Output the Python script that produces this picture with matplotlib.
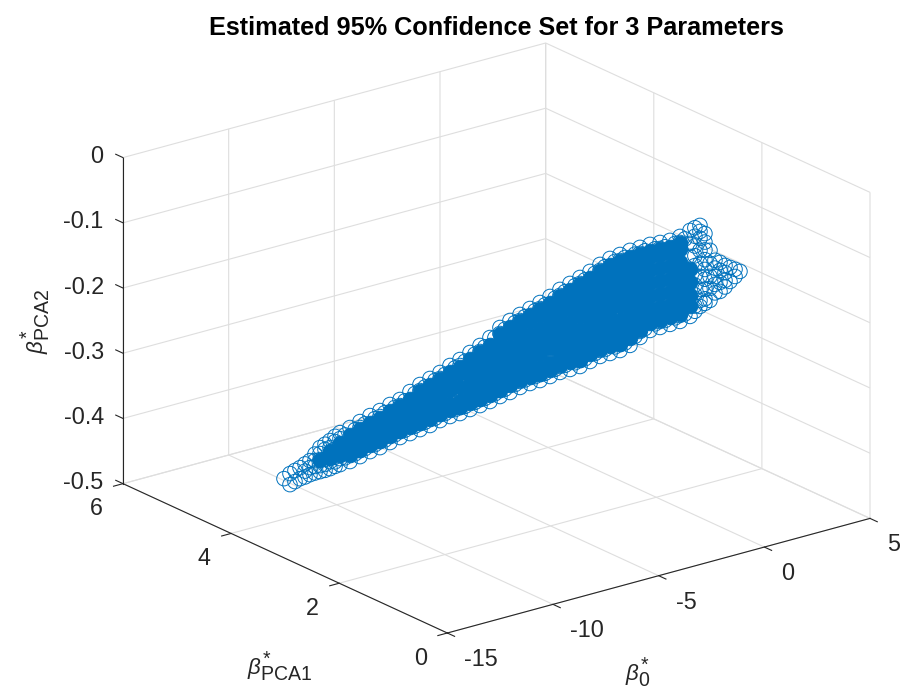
import numpy as np
import matplotlib
matplotlib.use("Agg")
import matplotlib.pyplot as plt
import matplotlib._mathtext as _mt
from mpl_toolkits.mplot3d import proj3d

plt.rcParams['font.family'] = ['Liberation Sans', 'DejaVu Sans']
plt.rcParams['mathtext.fontset'] = 'custom'
plt.rcParams['mathtext.rm'] = 'Liberation Sans'
plt.rcParams['mathtext.it'] = 'Liberation Sans:italic'
plt.rcParams['mathtext.bf'] = 'Liberation Sans:bold'
plt.rcParams['axes.unicode_minus'] = False
_mt.SHRINK_FACTOR = 0.88

TITLE = "Estimated 95% Confidence Set for 3 Parameters"
X_TICKS = [-15, -10, -5, 0, 5]
Y_TICKS = [0, 2, 4, 6]
Z_TICKS = [-0.5, -0.4, -0.3, -0.2, -0.1, 0]
Z_LABELS = ['-0.5', '-0.4', '-0.3', '-0.2', '-0.1', '0']

beta0_slices = [-10.324, -10.168, -9.909, -9.650, -9.391, -9.132, -8.873, -8.614, -8.355, -8.096, -7.837, -7.578,
                -7.319, -7.060, -6.800, -6.541, -6.282, -6.023, -5.764, -5.505, -5.246, -4.987, -4.728, -4.469,
                -4.210, -3.951, -3.692, -3.433, -3.174, -2.915, -2.656, -2.396, -2.137, -1.878, -1.619, -1.360,
                -1.101, -0.842, -0.583, -0.324, -0.065, 0.194, 0.453, 0.712, 0.971, 1.230, 1.489]
pca1_slices = [4.850, 4.800, 4.716, 4.633, 4.549, 4.465, 4.381, 4.298, 4.214, 4.130, 4.047, 3.963,
               3.879, 3.795, 3.712, 3.628, 3.544, 3.461, 3.377, 3.293, 3.209, 3.126, 3.042, 2.958,
               2.875, 2.791, 2.707, 2.623, 2.540, 2.456, 2.372, 2.288, 2.205, 2.121, 2.037, 1.954,
               1.870, 1.786, 1.702, 1.619, 1.535, 1.451, 1.368, 1.284, 1.200, 1.116, 1.033]
pca2_outline = [
    [-.4895], [-.4812, -.4981], [-.4712, -.4881], [-.4595, -.4702, -.4810],
    [-.4386, -.4478, -.4570, -.4662, -.4754], [-.4269, -.4377, -.4484, -.4591, -.4699],
    [-.4138, -.4230, -.4536, -.4628], [-.4051, -.4572], [-.3950, -.4042, -.4395, -.4487],
    [-.3849, -.4401], [-.3763, -.3855, -.4239, -.4331], [-.3661, -.4244],
    [-.3575, -.3668, -.4066, -.4158], [-.3444, -.4088], [-.3327, -.3419, -.3926, -.4018],
    [-.3225, -.3946], [-.3124, -.3216, -.3769, -.3861], [-.3008, -.3790],
    [-.2907, -.2999, -.3643, -.3735], [-.2790, -.3664], [-.2673, -.2765, -.3501, -.3594],
    [-.2542, -.3523], [-.2379, -.2471, -.3345, -.3437], [-.2262, -.3366],
    [-.2161, -.2253, -.3188, -.3280], [-.2060, -.3210], [-.1959, -.2051, -.3063, -.3155],
    [-.1857, -.3084], [-.1740, -.1832, -.2921, -.3013], [-.1639, -.2958],
    [-.1538, -.1630, -.2811, -.2903], [-.1436, -.2817], [-.1320, -.1412, -.2639, -.2731],
    [-.1219, -.2676], [-.1149, -.1241, -.2529, -.2621], [-.1077, -.2534],
    [-.1022, -.1114, -.2311, -.2403], [-.0967, -.2286], [-.0928, -.1020, -.2139, -.2231],
    [-.0887, -.2175], [-.0817, -.0909, -.2028, -.2120], [-.0716, -.0915, -.1114, -.2034],
    [-.0630, -.0722, -.0829, -.1013, -.1213, -.1412, -.1611, -.1780, -.1872],
    [-.1003, -.1203, -.1402, -.1586, -.1770], [-.1178, -.1301, -.1485, -.1623],
    [-.1246, -.1461], [-.1298],
]
pca2_dense = [
    [], [], [], [], [-.4570], [-.4430, -.4540],
    [-.4290, -.4383, -.4480], [-.4250, -.4373], [-.4149, -.4287], [-.4048, -.4202], [-.3963, -.4131], [-.3861, -.4045],
    [-.3775, -.3959], [-.3643, -.3766, -.3889], [-.3527, -.3680, -.3818], [-.3425, -.3578, -.3747],
    [-.3324, -.3492, -.3661], [-.3207, -.3391, -.3591], [-.3106, -.3321, -.3536],
    [-.2989, -.3173, -.3357, -.3464], [-.2873, -.3072, -.3271, -.3394], [-.2741, -.2925, -.3124, -.3324],
    [-.2579, -.2763, -.2947, -.3131, -.3238], [-.2461, -.2661, -.2860, -.3059, -.3167],
    [-.2360, -.2560, -.2759, -.2958, -.3081], [-.2259, -.2459, -.2658, -.2857, -.3011],
    [-.2158, -.2358, -.2557, -.2756, -.2956], [-.2056, -.2256, -.2455, -.2654, -.2884],
    [-.1940, -.2139, -.2339, -.2538, -.2737], [-.1839, -.2038, -.2238, -.2437, -.2636, -.2759],
    [-.1738, -.1937, -.2136, -.2336, -.2535, -.2704], [-.1636, -.1835, -.2034, -.2234, -.2433, -.2617],
    [-.1519, -.1719, -.1918, -.2117, -.2317, -.2516], [-.1418, -.1618, -.1817, -.2016, -.2216, -.2415, -.2523],
    [-.1348, -.1547, -.1747, -.1946, -.2146, -.2345], [-.1277, -.1476, -.1675, -.1875, -.2074, -.2274, -.2381],
    [-.1222, -.1421, -.1620, -.1820, -.2019, -.2203], [-.1167, -.1366, -.1565, -.1765, -.1964, -.2102],
    [-.1127, -.1326, -.1526, -.1725, -.1924, -.2047], [-.1086, -.1286, -.1485, -.1684, -.1884, -.2022],
    [-.1016, -.1215, -.1415, -.1614, -.1813, -.1951], [-.1314, -.1513, -.1712, -.1881],
    [], [], [], [], [],
]
pca2_dense_edge = [
    [-.4158, -.4465], [-.4057, -.4380], [-.3956, -.4294], [-.3870, -.4224], [-.3768, -.4137], [-.3682, -.4051],
    [-.3551, -.3981], [-.3434, -.3911], [-.3332, -.3839], [-.3231, -.3754], [-.3115, -.3683], [-.3014, -.3628],
    [-.2897, -.3557], [-.2780, -.3487], [-.2649, -.3416], [-.2486, -.3330], [-.2369, -.3259], [-.2268, -.3173],
    [-.2167, -.3103], [-.2066, -.3048], [-.1964, -.2977], [-.1847, -.2906], [-.1746, -.2851], [-.1645, -.2796],
    [-.1543, -.2710], [-.1427, -.2624], [-.1326, -.2569], [-.1256, -.2514], [-.1184, -.2427], [-.1129, -.2296],
    [-.1074, -.2179], [-.1035, -.2124], [-.0994, -.2068], [-.0924, -.2013],
]
beta0_half = [-10.04, -9.78, -9.52, -9.26, -9.00, -8.74, -8.48, -8.23, -7.97, -7.71, -7.45, -7.19, -6.93, -6.67,
              -6.41, -6.15, -5.89, -5.63, -5.38, -5.12, -4.86, -4.60, -4.34, -4.08, -3.82, -3.56, -3.30, -3.04,
              -2.79, -2.53, -2.27, -2.01, -1.75, -1.49, -1.23, -0.97, -0.71, -0.45, -0.19, 0.06, 0.32, 0.58,
              0.84, 1.10, 1.36]
pca1_half = [4.758, 4.674, 4.591, 4.507, 4.423, 4.340, 4.256, 4.172, 4.088, 4.005, 3.921, 3.837, 3.754, 3.670,
             3.586, 3.503, 3.419, 3.335, 3.251, 3.168, 3.084, 3.000, 2.916, 2.833, 2.749, 2.665, 2.582, 2.498,
             2.414, 2.330, 2.246, 2.163, 2.079, 1.995, 1.912, 1.828, 1.744, 1.660, 1.577, 1.493, 1.410, 1.326,
             1.242, 1.158, 1.074]
pca2_half = [
    [-.476, -.493], [-.465, -.476, -.485], [-.449, -.459, -.468, -.478], [-.433, -.441, -.456, -.464, -.473],
    [-.420, -.428, -.440, -.452, -.459, -.466], [-.417, -.452], [-.408, -.445],
    [-.398, -.436], [-.389, -.429], [-.379, -.421],
    [-.370, -.412], [-.359, -.404], [-.347, -.397],
    [-.336, -.390], [-.325, -.383], [-.315, -.375],
    [-.304, -.368], [-.293, -.362], [-.281, -.355],
    [-.269, -.348], [-.254, -.340], [-.240, -.332],
    [-.229, -.324], [-.219, -.316], [-.209, -.310],
    [-.199, -.304], [-.188, -.297], [-.177, -.290],
    [-.167, -.285], [-.157, -.278], [-.146, -.269],
    [-.135, -.262], [-.126, -.257], [-.119, -.250],
    [-.113, -.239], [-.107, -.226], [-.103, -.218],
    [-.099, -.212], [-.093, -.207], [-.085, -.200],
    [-.067, -.080, -.095, -.110, -.125, -.140, -.155, -.170, -.187, -.195],
    [-.075, -.088, -.100, -.115, -.130, -.145, -.160, -.175, -.182],
    [-.115, -.127, -.140, -.152, -.165], [-.122, -.133, -.145, -.155], [-.127, -.138],
]

def expand(xs, ys, zs):
    x = [b for b, row in zip(xs, zs) for _ in row]
    y = [p for p, row in zip(ys, zs) for _ in row]
    z = [v for row in zs for v in row]
    return x, y, z

W, H = 903, 690
BLUE = '#0072BD'
DARK = '#262626'
GRID = '#DEDEDE'

fig = plt.figure(figsize=(W / 100, H / 100), dpi=100)
ax = fig.add_subplot(projection='3d', proj_type='ortho')
ax.view_init(elev=30, azim=-127.5)
ax.set_box_aspect((1, 1, 1))
ax.set_xlim(X_TICKS[0], X_TICKS[-1])
ax.set_ylim(Y_TICKS[0], Y_TICKS[-1])
ax.set_zlim(Z_TICKS[0], Z_TICKS[-1])
ax.xaxis.set_rotate_label(False)
ax.yaxis.set_rotate_label(False)
ax.zaxis.set_rotate_label(False)

# the source stretches its box to fill the canvas instead of keeping it cubic
ax.apply_aspect = lambda position=None: None
M = ax.get_proj()
def p2(x, y, z):
    a, b, _ = proj3d.proj_transform(x, y, z, M)
    return float(a), float(b)
xA, _ = p2(-15, 6, -.5)
xC, _ = p2(5, 0, -.5)
_, yB = p2(-15, 0, -.5)
_, yD = p2(5, 6, 0)
vx0, vx1 = ax.viewLim.intervalx
vy0, vy1 = ax.viewLim.intervaly
pw = (870 - 123) / (xC - xA)
ph = ((H - 43) - (H - 633)) / (yD - yB)
left = 123 - (xA - vx0) * pw
bottom = (H - 633) - (yB - vy0) * ph
ax.set_position([left / W, bottom / H, (vx1 - vx0) * pw / W, (vy1 - vy0) * ph / H])

for axis in (ax.xaxis, ax.yaxis, ax.zaxis):
    axis.set_pane_color((1, 1, 1, 0))
    axis.pane.set_edgecolor(GRID)
    axis.pane.set_linewidth(0.8)
    axis._axinfo['grid'].update(color=GRID, linewidth=0.8)
    axis.line.set_color(DARK)
    axis.line.set_linewidth(0.8)
ax.xaxis._axinfo['tick'].update(inward_factor=0.28, outward_factor=0.0, linewidth={True: 0.8, False: 0.5}, color=DARK)
ax.yaxis._axinfo['tick'].update(inward_factor=0.28, outward_factor=0.0, linewidth={True: 0.8, False: 0.5}, color=DARK)
ax.zaxis._axinfo['tick'].update(inward_factor=0.0, outward_factor=0.28, linewidth={True: 0.8, False: 0.5}, color=DARK)
ax.zaxis._get_tickdir = lambda pos: 1

ax.set_xticks(X_TICKS)
ax.set_yticks(Y_TICKS)
ax.set_zticks(Z_TICKS)
ax.set_zticklabels(Z_LABELS)
ax.tick_params(axis='both', labelsize=16.8, labelcolor=DARK, color=DARK)
ax.tick_params(axis='z', labelsize=16.8, labelcolor=DARK, color=DARK, pad=4)

def nudge(axis, px, py, ha='center'):
    for tick in axis.get_major_ticks():
        lab = tick.label1
        lab.set_ha(ha)
        orig = lab.set_position
        def shifted(xy, orig=orig):
            orig((xy[0] + px / pw, xy[1] + py / ph))
        lab.set_position = shifted

nudge(ax.xaxis, 4, 4, ha='left')
nudge(ax.yaxis, -10, 4)
nudge(ax.zaxis, 12, 11, ha='right')

ox, oy, oz = expand(beta0_slices, pca1_slices, pca2_outline)
ax.scatter(ox, oy, oz, s=110, facecolors='none', edgecolors=BLUE, linewidths=0.7, depthshade=False)
hx, hy, hz = expand(beta0_half, pca1_half, pca2_half)
ax.scatter(hx, hy, hz, s=110, facecolors='none', edgecolors=BLUE, linewidths=0.7, depthshade=False)
dx, dy, dz = expand(beta0_slices, pca1_slices, pca2_dense)
ax.scatter(dx, dy, dz, s=110, facecolors=BLUE, edgecolors=BLUE, linewidths=0.7, depthshade=False)
ex, ey, ez = expand(beta0_slices[7:41], pca1_slices[7:41], pca2_dense_edge)
ax.scatter(ex, ey, ez, s=110, facecolors=BLUE, edgecolors=BLUE, linewidths=0.7, depthshade=False)

def place(label, px, py, rot=0):
    label.set_x(vx0 + (px - left) / pw)
    label.set_y(vy0 + (H - py - bottom) / ph)
    label.set_position = lambda xy: None
    label.set_rotation(rot)

ax.set_xlabel(r'$\beta^{*}_{\mathrm{0}}$', fontsize=16, color=DARK)
ax.set_ylabel(r'$\beta^{*}_{\mathrm{PCA1}}$', fontsize=16, color=DARK)
ax.set_zlabel(r'$\beta^{*}_{\mathrm{PCA2}}$', fontsize=16, color=DARK)
place(ax.xaxis.label, 638, 673)
place(ax.yaxis.label, 280, 667)
place(ax.zaxis.label, 36, 321, 90)

title_x = (496 - left) / ((vx1 - vx0) * pw)
title_y = (H - 35 - bottom) / ((vy1 - vy0) * ph)
ax.set_title(TITLE, fontsize=18.2, fontweight='bold', color='black', x=title_x, y=title_y / 0.92,
             va='baseline', pad=0)
fig.savefig('out.png', dpi=100)
